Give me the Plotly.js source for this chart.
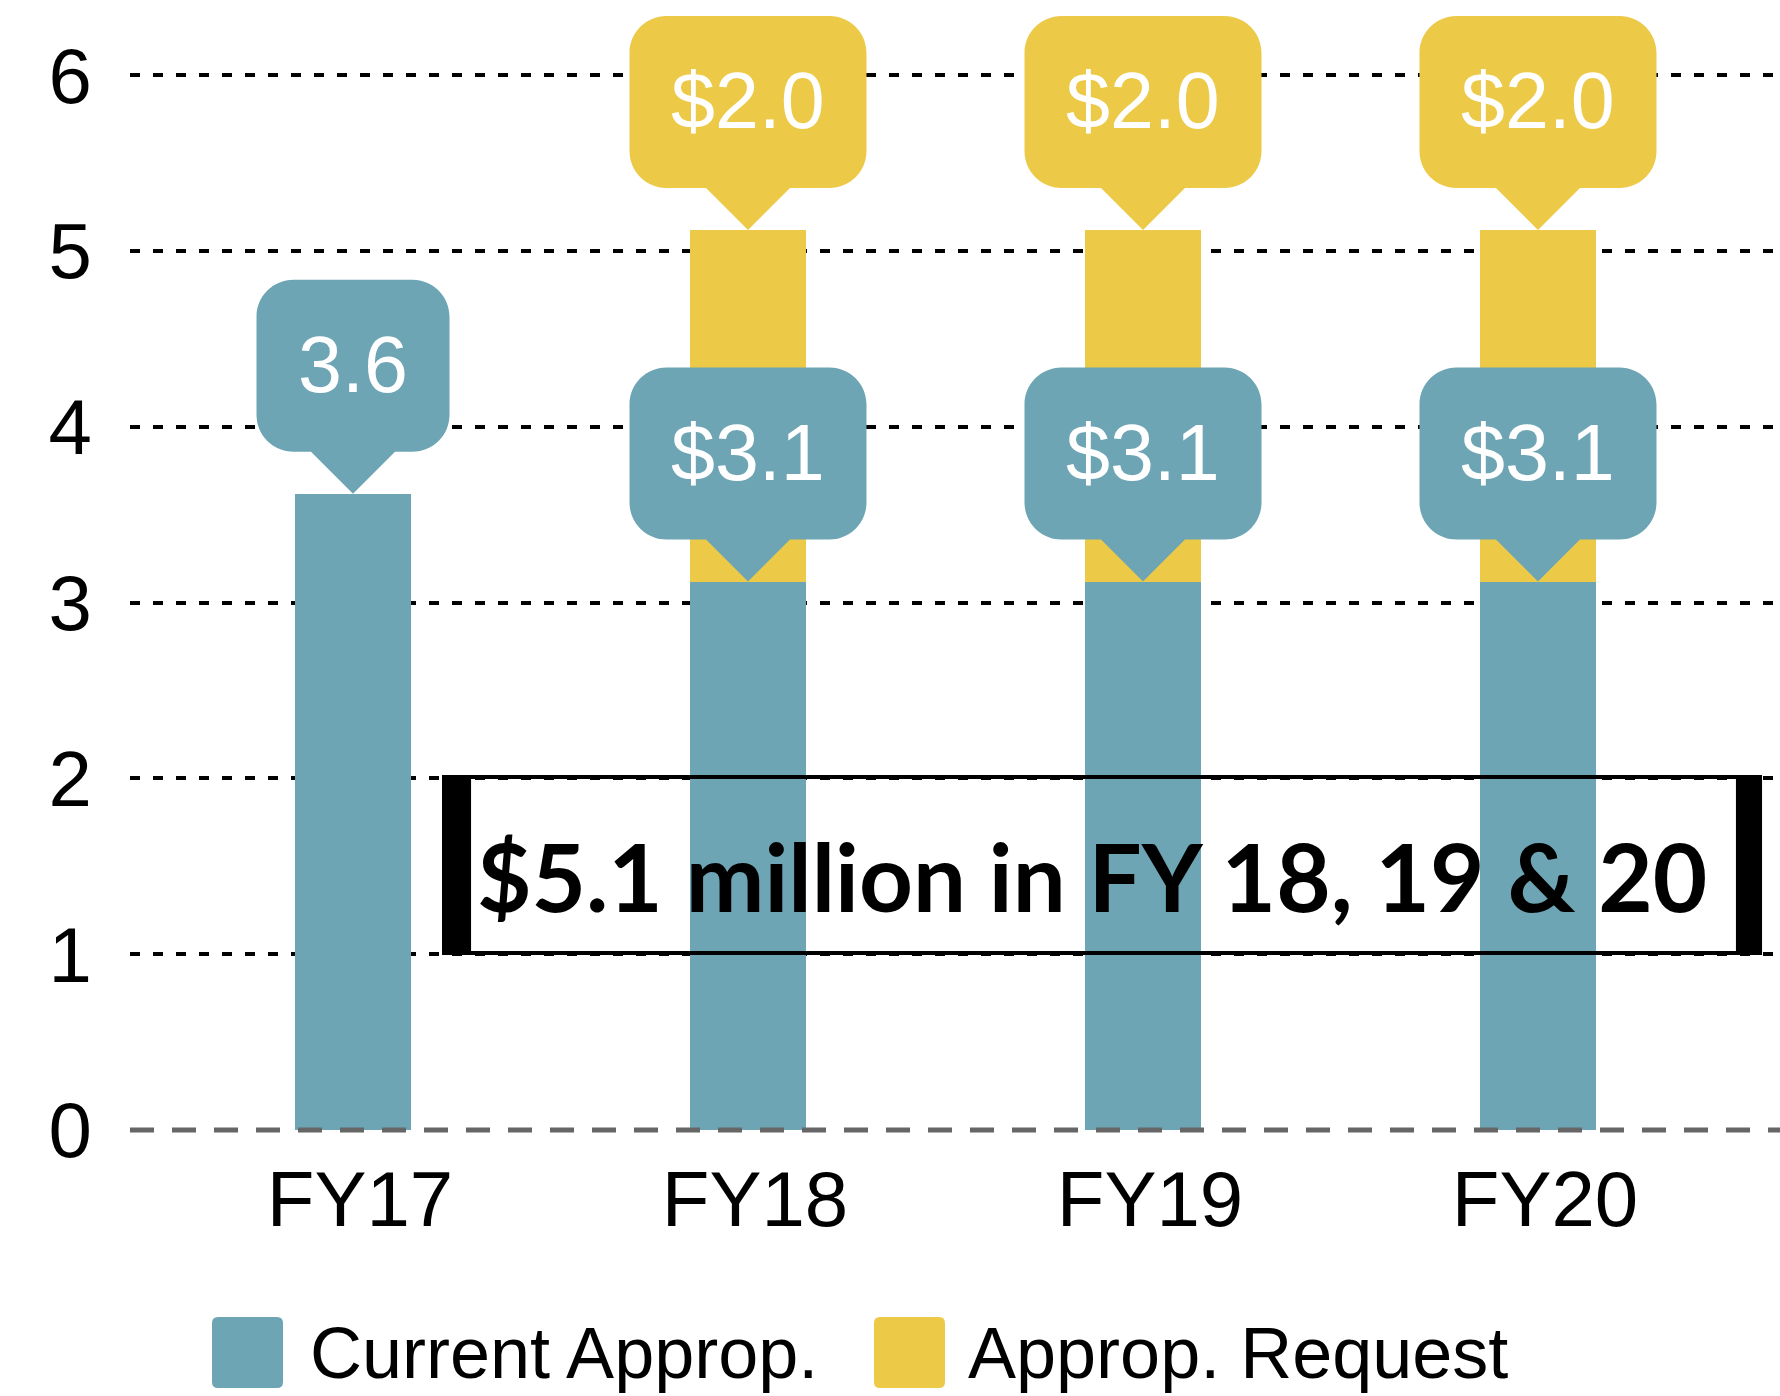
<!DOCTYPE html>
<html>
<head>
<meta charset="utf-8">
<script src="https://cdn.plot.ly/plotly-3.0.1.min.js"></script>
<style>html,body{margin:0;padding:0;background:#fff;}#chart{width:1780px;height:1396px;}</style>
</head>
<body>
<div id="chart"></div>
<script>
// ---- data ----
const categories = ['FY17', 'FY18', 'FY19', 'FY20'];
const currentApprop = [3.62, 3.12, 3.12, 3.12];
const appropRequest = [0, 2.0, 2.0, 2.0];
const currentLabels = ['3.6', '$3.1', '$3.1', '$3.1'];
const requestLabels = ['', '$2.0', '$2.0', '$2.0'];
const seriesNames = ['Current Approp.', 'Approp. Request'];
const yTickVals = [0, 1, 2, 3, 4, 5, 6];
const calloutText = '$5.1 million in FY 18, 19 & 20';

// ---- style ----
const BLUE = '#6DA5B4';
const YELLOW = '#EDC948';
const FONT = 'Liberation Sans, Arial, sans-serif';
const xIdx = categories.map((c, i) => i);

function bubblePath(w) {
  const hw = w / 2, h = 172, p = 42, r = 37, k = 0.5523 * r;
  const top = p + h;
  return `M0,0 L${-p},${p} H${-hw + r} C${-hw + r - k},${p} ${-hw},${p + r - k} ${-hw},${p + r} ` +
    `V${top - r} C${-hw},${top - r + k} ${-hw + r - k},${top} ${-hw + r},${top} ` +
    `H${hw - r} C${hw - r + k},${top} ${hw},${top - r + k} ${hw},${top - r} ` +
    `V${p + r} C${hw},${p + r - k} ${hw - r + k},${p} ${hw - r},${p} H${p} Z`;
}
function roundSquare(s, r) {
  return `M${r},0 H${s - r} Q${s},0 ${s},${r} V${s - r} Q${s},${s} ${s - r},${s} H${r} Q0,${s} 0,${s - r} V${r} Q0,0 ${r},0 Z`;
}

const traces = [
  {type: 'bar', x: xIdx, y: currentApprop, name: seriesNames[0], width: 0.294,
   marker: {color: BLUE}, hoverinfo: 'skip', showlegend: false},
  {type: 'bar', x: xIdx, y: appropRequest, name: seriesNames[1], width: 0.294,
   marker: {color: YELLOW}, hoverinfo: 'skip', showlegend: false}
];

const shapes = [];
const annotations = [];

// callout bubbles
xIdx.forEach(i => {
  const lab = currentLabels[i];
  shapes.push({type: 'path', xref: 'x', yref: 'y', xsizemode: 'pixel', ysizemode: 'pixel',
    xanchor: i, yanchor: currentApprop[i], path: bubblePath(lab.indexOf('$') >= 0 ? 237 : 193),
    fillcolor: BLUE, line: {width: 0}, layer: 'above'});
  annotations.push({x: i, y: currentApprop[i], xref: 'x', yref: 'y', yshift: 129, showarrow: false,
    text: lab, font: {family: FONT, size: 79, color: '#ffffff'}, xanchor: 'center', yanchor: 'middle'});
  if (appropRequest[i] > 0) {
    const tot = currentApprop[i] + appropRequest[i];
    shapes.push({type: 'path', xref: 'x', yref: 'y', xsizemode: 'pixel', ysizemode: 'pixel',
      xanchor: i, yanchor: tot, path: bubblePath(237),
      fillcolor: YELLOW, line: {width: 0}, layer: 'above'});
    annotations.push({x: i, y: tot, xref: 'x', yref: 'y', yshift: 129, showarrow: false,
      text: requestLabels[i], font: {family: FONT, size: 79, color: '#ffffff'}, xanchor: 'center', yanchor: 'middle'});
  }
});

// zero line (dashed gray)
shapes.push({type: 'line', xref: 'paper', yref: 'y', x0: 0, x1: 1, y0: 0, y1: 0,
  line: {color: '#666666', width: 5, dash: '24px,18px'}, layer: 'above'});

// highlighted text box
shapes.push({type: 'rect', xref: 'paper', yref: 'y', x0: 0.1903, x1: 0.9879, y0: 1.007, y1: 2.008,
  line: {color: '#000', width: 4}, fillcolor: 'rgba(0,0,0,0)', layer: 'above'});
shapes.push({type: 'rect', xref: 'paper', yref: 'y', x0: 0.1891, x1: 0.2067, y0: 0.995, y1: 2.02,
  line: {width: 0}, fillcolor: '#000', layer: 'above'});
shapes.push({type: 'rect', xref: 'paper', yref: 'y', x0: 0.9733, x1: 0.9891, y0: 0.995, y1: 2.02,
  line: {width: 0}, fillcolor: '#000', layer: 'above'});
annotations.push({x: 0.5833, y: 1.445, xref: 'paper', yref: 'y', showarrow: false, text: calloutText,
  font: {family: 'Lato, sans-serif', size: 94, color: '#000', weight: 'bold'}, xanchor: 'center', yanchor: 'middle'});

// legend (drawn manually)
const legendColors = [BLUE, YELLOW];
const legendSquareX = [0.0497, 0.4509];
const legendTextX = [0.1079, 0.5067];
seriesNames.forEach((n, j) => {
  shapes.push({type: 'path', xref: 'paper', yref: 'paper', xsizemode: 'pixel', ysizemode: 'pixel',
    xanchor: legendSquareX[j], yanchor: -0.2218, path: roundSquare(71, 6),
    fillcolor: legendColors[j], line: {width: 0}});
  annotations.push({x: legendTextX[j], y: -0.1906, xref: 'paper', yref: 'paper', showarrow: false,
    text: n, font: {family: FONT, size: 72, color: '#000'}, xanchor: 'left', yanchor: 'middle'});
});

const layout = {
  width: 1780, height: 1396,
  margin: {l: 130, r: 0, t: 0, b: 260, pad: 0},
  paper_bgcolor: '#fff', plot_bgcolor: '#fff',
  barmode: 'stack',
  showlegend: false,
  xaxis: {range: [-0.5646, 3.6127], tickvals: xIdx, ticktext: categories, showgrid: false,
    zeroline: false, showline: false, ticks: '', ticklabelstandoff: 11, ticklabelshift: 7,
    tickfont: {family: FONT, size: 78, color: '#000'}, fixedrange: true},
  yaxis: {range: [-0.0341, 6.428], tickvals: yTickVals, showgrid: true, gridcolor: '#000', gridwidth: 4,
    griddash: '10px,13px', zeroline: true, zerolinecolor: 'rgba(0,0,0,0)', zerolinewidth: 1,
    showline: false, ticks: '', ticklabelstandoff: 37,
    tickfont: {family: FONT, size: 78, color: '#000'}, fixedrange: true},
  shapes: shapes,
  annotations: annotations
};

Plotly.newPlot('chart', traces, layout, {displayModeBar: false, staticPlot: true});
</script>
</body>
</html>
